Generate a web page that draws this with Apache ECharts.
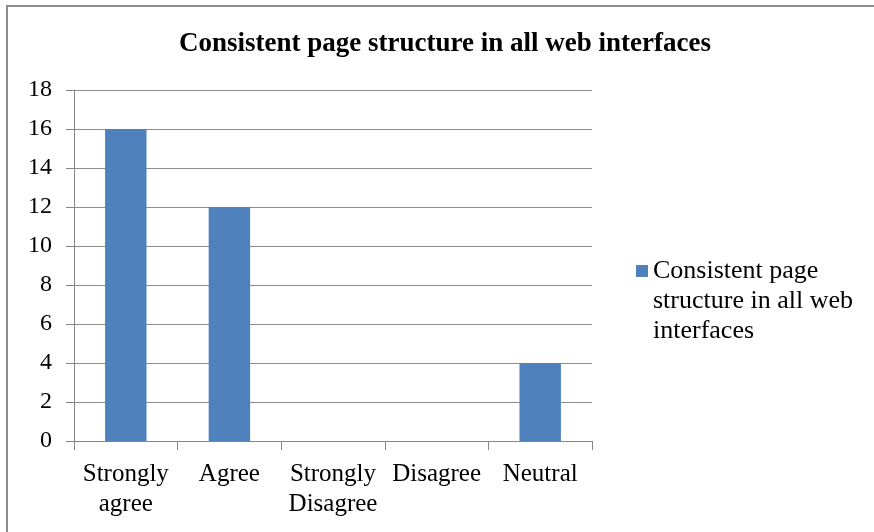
<!DOCTYPE html>
<html>
<head>
<meta charset="utf-8">
<script src="https://cdn.jsdelivr.net/npm/echarts@6/dist/echarts.min.js"></script>
<style>
    html, body { margin: 0; padding: 0; background: #fff; }
    #chart {
        position: absolute;
        left: 0; top: 0;
        width: 874px; height: 532px;
    }
    #frame {
        position: absolute;
        left: 6px; top: 5px;
        width: 868px; height: 527px;
        border-left: 2px solid #8c8c8c;
        border-top: 2px solid #8c8c8c;
        box-sizing: border-box;
        pointer-events: none;
    }
</style>
</head>
<body>
<div id="chart"></div>
<div id="frame"></div>
<script>
const categories = ['Strongly\nagree', 'Agree', 'Strongly\nDisagree', 'Disagree', 'Neutral']
const values = [16, 12, 0, 0, 4]
const seriesName = 'Consistent page structure in all web interfaces'
const yTicks = { min: 0, max: 18, interval: 2 }

const font = 'Liberation Serif, Times New Roman, serif'
const chart = echarts.init(document.getElementById('chart'))

const option = {
    animation: false,
    title: {
        text: seriesName,
        left: 445,
        top: 31,
        textAlign: 'center',
        padding: 0,
        textStyle: {
            fontFamily: font,
            fontWeight: 'bold',
            fontSize: 27,
            color: '#000'
        }
    },
    grid: {
        left: 74,
        right: 282,
        top: 90,
        bottom: 91,
        containLabel: false
    },
    legend: {
        left: 636,
        top: 196,
        padding: 0,
        icon: 'rect',
        itemWidth: 12,
        itemHeight: 12,
        itemGap: 6,
        formatter: () => '\n\nConsistent page\nstructure in all web\ninterfaces',
        textStyle: {
            fontFamily: font,
            fontSize: 26,
            lineHeight: 30,
            color: '#000'
        }
    },
    xAxis: {
        type: 'category',
        data: categories,
        axisLine: { lineStyle: { color: '#868686', width: 1 } },
        axisTick: { show: true, length: 9, lineStyle: { color: '#868686' } },
        axisLabel: {
            interval: 0,
            margin: 18,
            fontFamily: font,
            fontSize: 25,
            lineHeight: 30,
            color: '#000'
        }
    },
    yAxis: {
        type: 'value',
        min: yTicks.min,
        max: yTicks.max,
        interval: yTicks.interval,
        axisLine: { show: true, lineStyle: { color: '#868686', width: 1 } },
        axisTick: { show: true, length: 8, lineStyle: { color: '#868686' } },
        axisLabel: {
            margin: 22,
            fontFamily: font,
            fontSize: 24,
            color: '#000'
        },
        splitLine: {
            show: true,
            lineStyle: { color: '#8c8c8c', width: 1 }
        }
    },
    series: [
        {
            name: seriesName,
            type: 'bar',
            data: values,
            barWidth: '40%',
            itemStyle: {
                color: '#4f81bd'
            }
        }
    ]
}

chart.setOption(option)
</script>
</body>
</html>
